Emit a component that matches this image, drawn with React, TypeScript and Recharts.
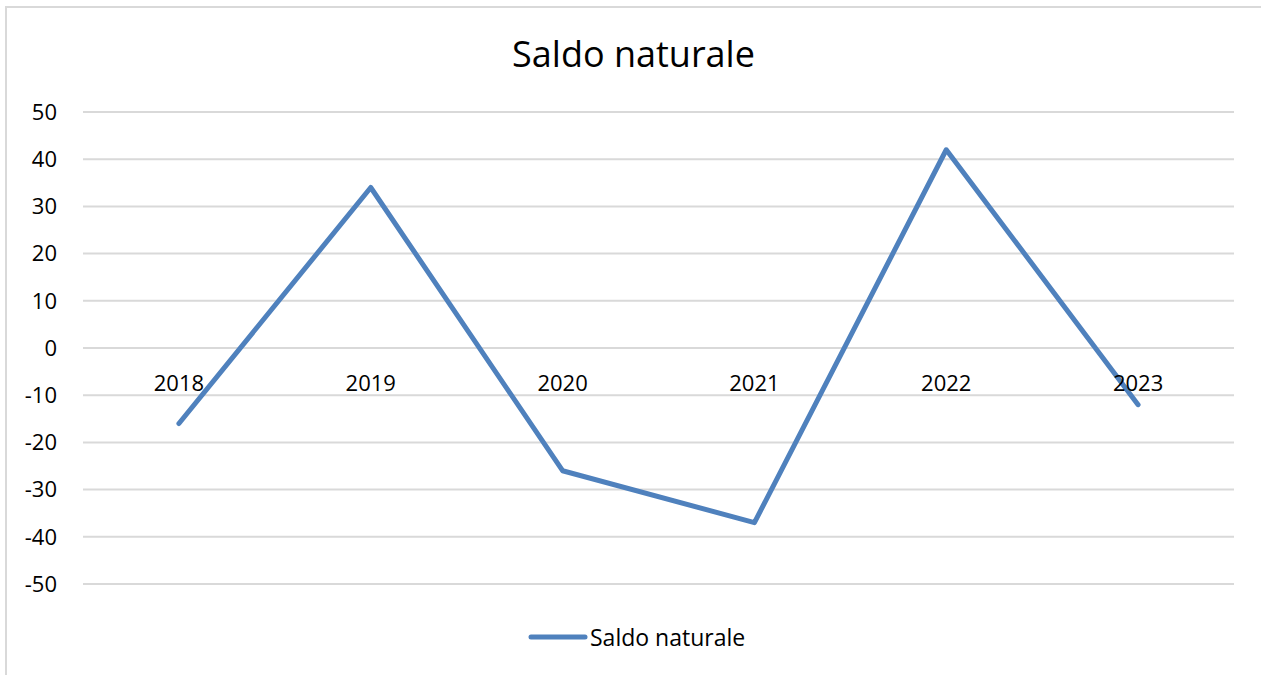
import React from "react";
import { LineChart, Line, XAxis, YAxis, CartesianGrid } from "recharts";

const categories = ["2018", "2019", "2020", "2021", "2022", "2023"];
const saldoNaturale = [-16, 34, -26, -37, 42, -12];
const yTicks = [-50, -40, -30, -20, -10, 0, 10, 20, 30, 40, 50];
const seriesName = "Saldo naturale";
const chartTitle = "Saldo naturale";

const data = categories.map((c, i) => ({ year: c, value: saldoNaturale[i] }));

const FONT = "'Open Sans', 'Noto Sans', sans-serif";
const BLUE = "#4f81bd";

const renderXTick = (props: any) => {
  const { x, y, payload } = props;
  return (
    <text
      key={payload.value}
      x={x}
      y={y - 202}
      textAnchor="middle"
      dominantBaseline="central"
      fontFamily={FONT}
      fontSize={22}
      fill="#000"
    >
      {payload.value}
    </text>
  );
};

export default function App() {
  return (
    <div
      style={{
        position: "fixed",
        left: 0,
        top: 0,
        width: 1261,
        height: 675,
        overflow: "hidden",
        background: "#fff",
      }}
    >
      <div
        style={{
          position: "absolute",
          left: 5,
          top: 6,
          width: 1300,
          height: 700,
          border: "2px solid #d9d9d9",
          boxSizing: "border-box",
        }}
      />
      <div
        style={{
          position: "absolute",
          left: 0,
          top: 29,
          width: 1267,
          textAlign: "center",
          fontFamily: FONT,
          fontSize: 36,
          color: "#000",
          lineHeight: "50px",
        }}
      >
        {chartTitle}
      </div>
      <div style={{ position: "absolute", left: 0, top: 0 }}>
        <LineChart
          width={1261}
          height={675}
          data={data}
          margin={{ top: 112, right: 27, bottom: 90, left: 0 }}
        >
          <CartesianGrid vertical={false} stroke="#d9d9d9" strokeWidth={2} />
          <XAxis
            dataKey="year"
            scale="band"
            height={1}
            axisLine={false}
            tickLine={false}
            tickSize={0}
            tickMargin={0}
            interval={0}
            tick={renderXTick}
          />
          <YAxis
            width={83}
            domain={[-50, 50]}
            ticks={yTicks}
            interval={0}
            axisLine={false}
            tickLine={false}
            tickSize={0}
            tickMargin={26}
            tick={{ fontFamily: FONT, fontSize: 22, fill: "#000" }}
          />
          <Line
            type="linear"
            dataKey="value"
            name={seriesName}
            stroke={BLUE}
            strokeWidth={5}
            strokeLinecap="round"
            strokeLinejoin="round"
            dot={false}
            activeDot={false}
            isAnimationActive={false}
          />
        </LineChart>
      </div>
      <div
        style={{
          position: "absolute",
          left: 528,
          top: 621,
          display: "flex",
          alignItems: "center",
          fontFamily: FONT,
          fontSize: 23,
          color: "#000",
          lineHeight: "32px",
        }}
      >
        <svg width={60} height={10} style={{ display: "block" }}>
          <line x1={3} y1={5} x2={57} y2={5} stroke={BLUE} strokeWidth={5} strokeLinecap="round" />
        </svg>
        <span style={{ marginLeft: 2 }}>{seriesName}</span>
      </div>
    </div>
  );
}
